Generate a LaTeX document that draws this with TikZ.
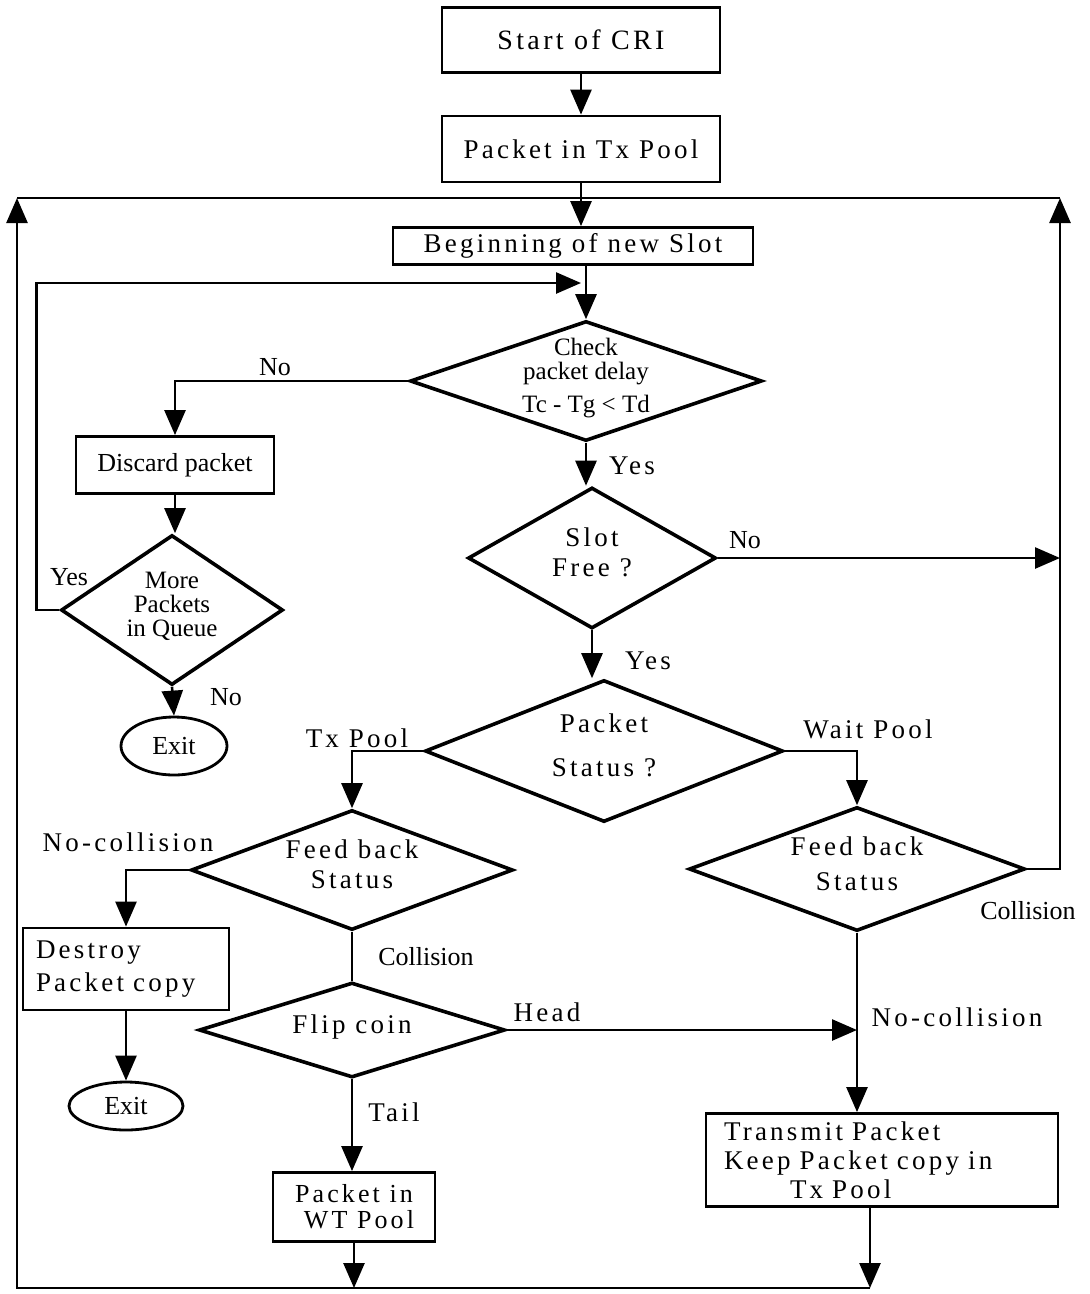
\documentclass[tikz,border=0pt]{standalone}
\usepackage{fontspec}
\setmainfont{Liberation Serif}
\newfontfamily\spc[LetterSpace=12]{Liberation Serif}
\usetikzlibrary{shapes.geometric,arrows.meta}
% centred multi-line text that takes no room, so a shape keeps its set size
\newcommand\dtxt[1]{\smash{\makebox[0pt]{\raisebox{-0.15em}{\begin{tabular}{@{}c@{}}#1\end{tabular}}}}}

\begin{document}
\begin{tikzpicture}[x=1pt,y=-1pt,
  box/.style={draw,line width=2.8pt,inner sep=0pt},
  dia/.style={diamond,draw,line width=3.6pt,inner sep=0pt},
  oval/.style={ellipse,draw,line width=2.8pt,inner sep=0pt},
  conn/.style={line width=2.6pt},
  arr/.style={conn,-{Triangle[length=25pt,width=21pt]}},
  tight/.style={font=\fontsize{26}{29}\selectfont},
  spaced/.style={font=\spc\fontsize{27}{30}\selectfont},
  lbl/.style={inner sep=0pt}
]
\fill[white] (0,0) rectangle (1090,1294);
\useasboundingbox (0,0) rectangle (1090,1294);

% ---- process boxes ----
\node[box,spaced,minimum width=278pt,minimum height=65pt,font=\spc\fontsize{28}{30}\selectfont] (start) at (581,40) {Start of CRI};
\node[box,spaced,minimum width=278pt,minimum height=66pt] (txpool) at (581,149) {Packet in Tx Pool};
\node[box,spaced,minimum width=360pt,minimum height=37pt] (slot) at (573,246) {Beginning of new Slot};
\node[box,tight,minimum width=198pt,minimum height=57pt] (discard) at (175,465) {Discard packet};
\node[box,spaced,minimum width=206pt,minimum height=82pt,text width=180pt,align=left,
      font=\spc\fontsize{27}{33}\selectfont] (destroy) at (126,969) {Destroy\\Packet copy};
\node[box,spaced,minimum width=162pt,minimum height=69pt,align=center,
      font=\spc\fontsize{26}{26}\selectfont] (wt) at (354,1207) {Packet in\\\hspace*{10pt}WT Pool};
\node[box,spaced,minimum width=352pt,minimum height=93pt,text width=316pt,align=left,
      font=\spc\fontsize{27}{29}\selectfont] (tx) at (882,1160)
      {Transmit Packet\\Keep Packet copy in\\\hspace*{66pt}Tx Pool};

% ---- terminators ----
\node[oval,tight,minimum width=106pt,minimum height=58pt] (exitA) at (174,746) {Exit};
\node[oval,tight,minimum width=114pt,minimum height=48pt] (exitB) at (126,1106) {Exit};

% ---- decisions ----
\node[dia,minimum width=352pt,minimum height=120pt,font=\fontsize{25}{23}\selectfont]
  (check) at (586,381) {\dtxt{Check\\packet delay\\[8pt]Tc - Tg < Td}};
\node[dia,minimum width=222pt,minimum height=150pt,font=\fontsize{25}{24}\selectfont]
  (more) at (172,610) {\dtxt{More\\Packets\\in Queue}};
\node[dia,spaced,minimum width=248pt,minimum height=141pt]
  (free) at (592,558) {\dtxt{Slot\\Free ?}};
\node[dia,spaced,minimum width=358pt,minimum height=142pt]
  (status) at (604,751) {\dtxt{Packet\\[14pt]Status ?}};
\node[dia,spaced,minimum width=322pt,minimum height=120pt]
  (lfb) at (352,870) {\dtxt{Feed back\\Status}};
\node[dia,spaced,minimum width=336pt,minimum height=124pt]
  (rfb) at (857,869) {\dtxt{Feed back\\[5pt]Status}};
\node[dia,spaced,minimum width=306pt,minimum height=95pt]
  (flip) at (352,1030) {\dtxt{Flip coin}};

% ---- branch labels ----
\node[lbl,tight] (lNo1) at (275,367) {No};
\node[lbl,spaced] (lYes1) at (632,466) {Yes};
\node[lbl,tight] (lNo2) at (745,540) {No};
\node[lbl,spaced] (lYes2) at (648,661) {Yes};
\node[lbl,tight] (lYes3) at (69,577) {Yes};
\node[lbl,tight] (lNo3) at (226,697) {No};
\node[lbl,spaced] (lTx) at (357,738) {Tx Pool};
\node[lbl,spaced] (lWait) at (868,729) {Wait Pool};
\node[lbl,spaced] (lNc1) at (128,842) {No-collision};
\node[lbl,tight] (lCol1) at (426,957) {Collision};
\node[lbl,spaced] (lHead) at (547,1012) {Head};
\node[lbl,spaced] (lTail) at (394,1112) {Tail};
\node[lbl,spaced] (lNc2) at (957,1017) {No-collision};
\node[lbl,tight] (lCol2) at (1028,911) {Collision};

% ---- frame corners and joints ----
\coordinate (tl) at (17,198);
\coordinate (tr) at (1060,198);
\coordinate (bl) at (17,1288);
\coordinate (loopin) at (581,283);
\coordinate (rjoin) at (1060,558);
\coordinate (txout) at (870,1206);
\coordinate (br) at (870,1288);

% ---- connectors ----
\draw[arr] (start.south) -- (txpool.north);
\draw[arr] (txpool.south) -- (txpool.south |- slot.north);
\draw[arr] (check.north |- slot.south) -- (check.north);
\draw[arr] (check.west) -| (discard.north);
\draw[arr] (discard.south) -- (discard.south |- more.north);
\draw[arr] (more.west) -- ++(-23,0) |- (loopin);
\draw[arr] (more.south) -- (exitA.north);
\draw[arr] (check.south) -- (check.south |- free.north);
\draw[arr] (free.east) -- (rjoin);
\draw[arr] (free.south) -- (free.south |- status.north);
\draw[arr] (status.west) -| (lfb.north);
\draw[arr] (status.east) -| (rfb.north);
\draw[arr] (lfb.west) -| (destroy.north);
\draw[arr] (destroy.south) -- (exitB.north);
\draw[conn] (lfb.south) -- (flip.north);
\draw[arr] (flip.east) -- (rfb.south |- flip.east);
\draw[arr] (flip.south) -- (flip.south |- wt.north);
\draw[arr] (rfb.south) -- (rfb.south |- tx.north);
\draw[arr] (wt.south) -- (wt.south |- bl);
\draw[arr] (txout) -- (br);
% return loop round the whole chart
\draw[arr] (br) -- (bl) -- (tl);
\draw[conn] (tl) -- (tr);
\draw[arr] (rfb.east) -- (rfb.east -| tr) -- (tr);
\end{tikzpicture}
\end{document}
